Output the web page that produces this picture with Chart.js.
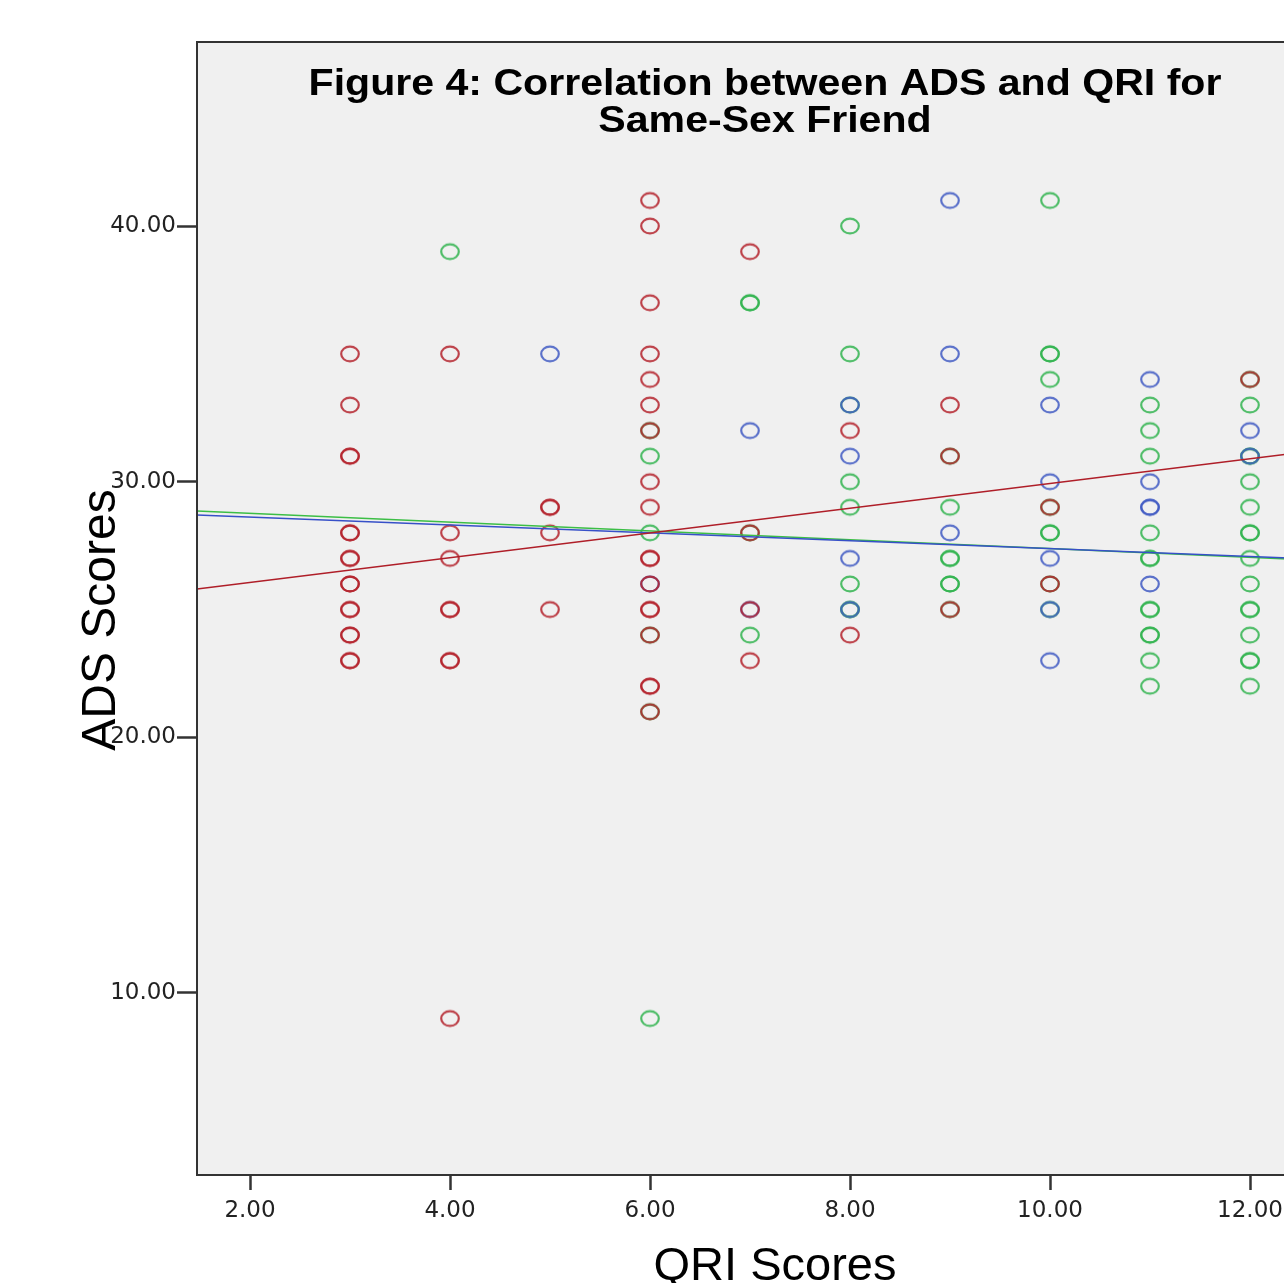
<!DOCTYPE html>
<html>
<head>
<meta charset="utf-8">
<script src="https://cdn.jsdelivr.net/npm/chart.js@4/dist/chart.umd.min.js"></script>
<style>
  html, body { margin: 0; padding: 0; background: #fff; overflow: hidden; }
  #chart { display: block; }
</style>
</head>
<body>
<canvas id="chart" width="1400" height="1283"></canvas>
<script>
// QRI (x) and ADS (y) per group
const redQRI = [3,3,3,3,3,3,3,3,3,3,3,3,3,3,3,3, 4,4,4,4,4,4,4,4, 5,5,5,5,
    6,6,6,6,6,6,6,6,6,6,6,6,6,6,6,6,6,6, 7,7,7,7, 8,8, 9,9,9, 10,10, 12];
const redADS = [35,33,31,31,28,28,27,27,26,26,25,25,24,24,23,23, 35,28,27,25,25,23,23,9, 29,29,28,25,
    41,40,37,35,34,33,32,30,29,27,27,26,25,25,24,22,22,21, 39,28,25,23, 32,24, 33,31,25, 29,26, 34];

const blueQRI = [5, 6, 7,7, 8,8,8,8, 9,9,9, 10,10,10,10,10, 11,11,11,11,11, 12,12];
const blueADS = [35, 26, 32,25, 33,31,27,25, 41,35,28, 33,30,27,25,23, 34,30,29,29,26, 32,31];

const greenQRI = [4, 6,6,6,6,6,6, 7,7,7,7, 8,8,8,8,8,8,8,8, 9,9,9,9,9,9,9,
    10,10,10,10,10,10,10,10,10, 11,11,11,11,11,11,11,11,11,11,11,11,
    12,12,12,12,12,12,12,12,12,12,12,12,12,12,12,12];
const greenADS = [39, 32,31,28,24,21,9, 37,37,28,24, 40,35,33,30,29,26,25,25, 31,29,27,27,26,26,25,
    41,35,35,34,29,28,28,26,25, 33,32,31,28,27,27,25,25,24,24,23,22,
    34,33,31,31,30,29,28,28,27,26,25,25,24,23,23,22];

// fit lines: ADS at the left and right edges of the plot
const fitQRI = [1.47, 12.83];
const redFit = [25.8, 31.3];
const blueFit = [28.7, 26.95];
const greenFit = [28.85, 26.9];

const xTicks = [2, 4, 6, 8, 10, 12];
const yTicks = [10, 20, 30, 40];

const titleLines = ['Figure 4: Correlation between ADS and QRI for', 'Same-Sex Friend'];
const xTitle = 'QRI Scores';
const yTitle = 'ADS Scores';

const RED = 'rgba(180,35,45,0.85)';
const BLUE = 'rgba(65,90,195,0.85)';
const GREEN = 'rgba(50,180,80,0.85)';

// SPSS markers come out as slightly flattened rings
function ring(color) {
    const c = document.createElement('canvas');
    c.width = 24;
    c.height = 22;
    const g = c.getContext('2d');
    g.strokeStyle = color;
    g.lineWidth = 2.2;
    g.beginPath();
    g.ellipse(12, 11, 8.8, 7.4, 0, 0, Math.PI * 2);
    g.stroke();
    return c;
}

function pts(xs, ys) {
    return xs.map((x, i) => ({ x: x, y: ys[i] }));
}

function scatterSet(label, xs, ys, color) {
    return {
        type: 'scatter',
        label: label,
        data: pts(xs, ys),
        pointStyle: ring(color),
        pointRadius: 10,
        borderColor: color,
        backgroundColor: 'rgba(0,0,0,0)'
    };
}

function fitSet(label, ys, color) {
    return {
        type: 'line',
        label: label,
        data: pts(fitQRI, ys),
        borderColor: color,
        borderWidth: 1.5,
        pointRadius: 0,
        fill: false
    };
}

// plot background, frame, title inside the frame and the axis titles
const framePlugin = {
    id: 'frame',
    beforeDatasetsDraw(chart) {
        const { ctx, chartArea: a } = chart;
        ctx.save();
        ctx.fillStyle = '#f0f0f0';
        ctx.fillRect(a.left, a.top, a.right - a.left, a.bottom - a.top);
        ctx.restore();
    },
    afterDraw(chart) {
        const { ctx, chartArea: a } = chart;
        ctx.save();
        ctx.strokeStyle = '#333';
        ctx.lineWidth = 2;
        ctx.strokeRect(a.left, a.top, a.right - a.left, a.bottom - a.top);

        const cx = (a.left + a.right) / 2;
        ctx.fillStyle = '#000';
        ctx.font = 'bold 37px "Liberation Sans", Arial, sans-serif';
        ctx.textAlign = 'center';
        ctx.textBaseline = 'alphabetic';
        [95, 132].forEach((y, i) => {
            ctx.save();
            ctx.translate(cx, y);
            ctx.scale(1.11, 1);
            ctx.fillText(titleLines[i], 0, 0);
            ctx.restore();
        });

        ctx.font = '47px "Liberation Sans", Arial, sans-serif';
        ctx.fillText(xTitle, 775, 1280);

        ctx.font = '48px "Liberation Sans", Arial, sans-serif';
        ctx.translate(115, 620);
        ctx.rotate(-Math.PI / 2);
        ctx.fillText(yTitle, 0, 0);
        ctx.restore();
    }
};

const tickFont = { family: '"DejaVu Sans", sans-serif', size: 23 };

new Chart(document.getElementById('chart'), {
    data: {
        datasets: [
            fitSet('Red fit', redFit, 'rgb(175,30,40)'),
            fitSet('Blue fit', blueFit, 'rgb(55,80,200)'),
            fitSet('Green fit', greenFit, 'rgb(60,190,70)'),
            scatterSet('Red', redQRI, redADS, RED),
            scatterSet('Blue', blueQRI, blueADS, BLUE),
            scatterSet('Green', greenQRI, greenADS, GREEN)
        ]
    },
    options: {
        responsive: false,
        animation: false,
        layout: { padding: { top: 42, right: 67, bottom: 0, left: 0 } },
        plugins: {
            legend: { display: false },
            tooltip: { enabled: false },
            title: { display: false }
        },
        scales: {
            x: {
                type: 'linear',
                min: fitQRI[0],
                max: fitQRI[1],
                afterBuildTicks: scale => { scale.ticks = xTicks.map(v => ({ value: v })); },
                afterFit: scale => { scale.height = 108; },
                border: { display: false },
                grid: {
                    drawOnChartArea: false,
                    drawTicks: true,
                    tickLength: 15,
                    tickWidth: 2.5,
                    tickColor: '#333'
                },
                ticks: {
                    font: tickFont,
                    color: '#222',
                    padding: 7,
                    maxRotation: 0,
                    callback: v => v.toFixed(2)
                }
            },
            y: {
                type: 'linear',
                min: 2.88,
                max: 47.2,
                afterBuildTicks: scale => { scale.ticks = yTicks.map(v => ({ value: v })); },
                afterFit: scale => { scale.width = 197; },
                border: { display: false },
                grid: {
                    drawOnChartArea: false,
                    drawTicks: true,
                    tickLength: 20,
                    tickWidth: 2.5,
                    tickColor: '#333'
                },
                ticks: {
                    font: tickFont,
                    color: '#222',
                    padding: 1,
                    callback: v => v.toFixed(2)
                }
            }
        }
    },
    plugins: [framePlugin]
});
</script>
</body>
</html>
